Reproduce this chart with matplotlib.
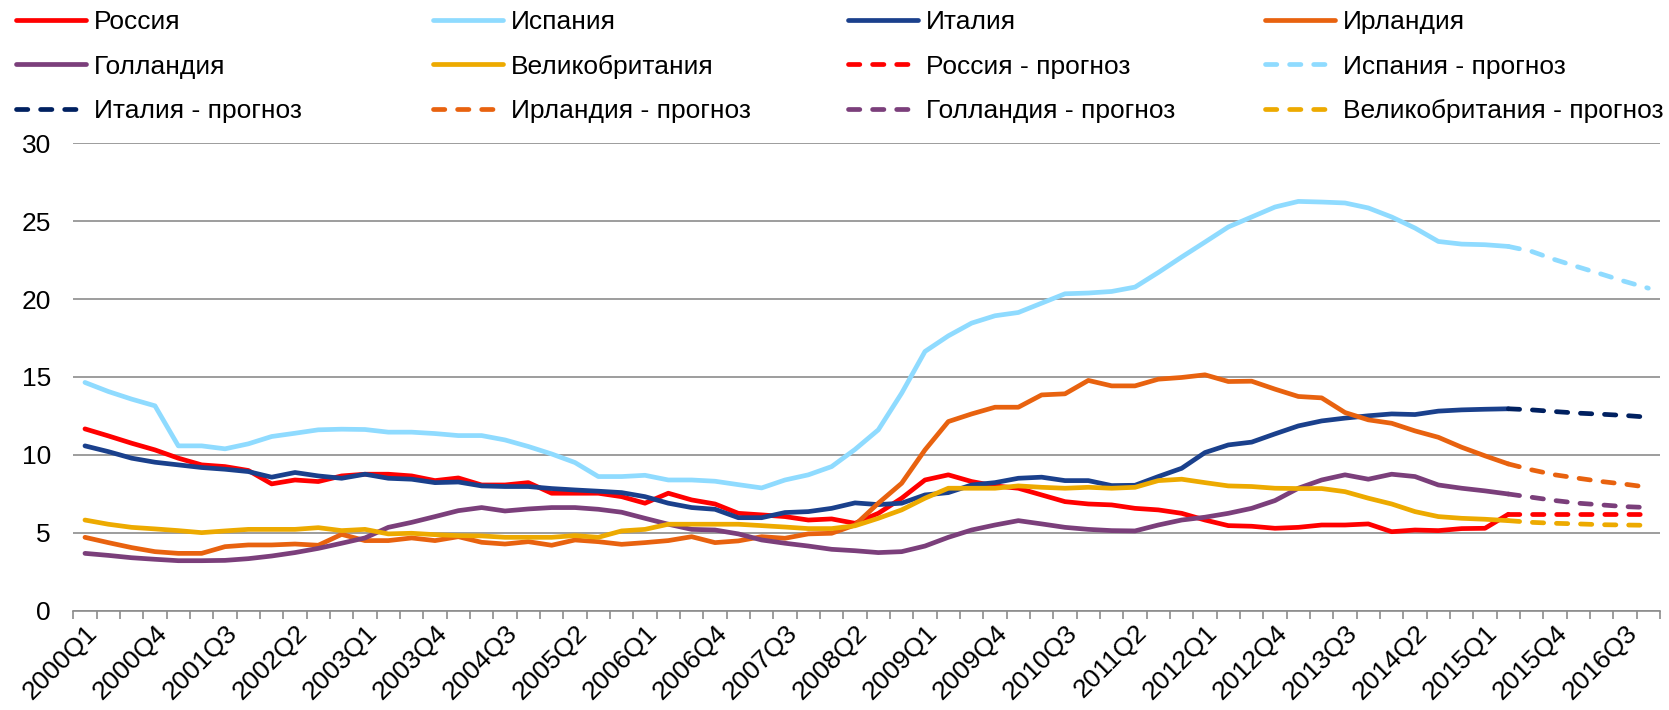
import numpy as np
import matplotlib
matplotlib.use("Agg")
import matplotlib.pyplot as plt

plt.rcParams['font.family'] = ['Liberation Sans', 'DejaVu Sans']

# кварталы 2000Q1 - 2016Q4
kvartaly = [f"{g}Q{q}" for g in range(2000, 2017) for q in range(1, 5)]

# факт: 2000Q1 - 2015Q2
rossiya = [11.67, 11.22, 10.75, 10.32, 9.79, 9.36, 9.25, 9.00, 8.14, 8.39,
           8.29, 8.65, 8.76, 8.76, 8.65, 8.35, 8.52, 8.07, 8.07, 8.22,
           7.54, 7.54, 7.54, 7.32, 6.90, 7.54, 7.11, 6.85, 6.25, 6.15,
           6.04, 5.82, 5.89, 5.61, 6.25, 7.22, 8.39, 8.72, 8.29, 8.01,
           7.86, 7.43, 7.00, 6.85, 6.79, 6.57, 6.47, 6.25, 5.82, 5.46,
           5.42, 5.29, 5.35, 5.50, 5.50, 5.57, 5.07, 5.18, 5.14, 5.27,
           5.29, 6.19]
ispaniya = [14.65, 14.07, 13.58, 13.15, 10.58, 10.58, 10.39, 10.71, 11.18, 11.39,
            11.61, 11.65, 11.63, 11.46, 11.46, 11.37, 11.24, 11.24, 10.96, 10.54,
            10.06, 9.51, 8.61, 8.61, 8.69, 8.39, 8.39, 8.31, 8.09, 7.88,
            8.39, 8.72, 9.25, 10.35, 11.61, 13.96, 16.64, 17.64, 18.46, 18.93,
            19.14, 19.74, 20.34, 20.39, 20.49, 20.77, 21.71, 22.70, 23.66, 24.63,
            25.27, 25.91, 26.27, 26.23, 26.17, 25.85, 25.27, 24.56, 23.70, 23.53,
            23.49, 23.38]
italiya = [10.58, 10.21, 9.79, 9.53, 9.36, 9.19, 9.08, 8.93, 8.57, 8.87,
           8.65, 8.50, 8.76, 8.50, 8.44, 8.22, 8.26, 8.01, 7.97, 7.97,
           7.84, 7.75, 7.67, 7.58, 7.32, 6.90, 6.62, 6.51, 5.97, 5.97,
           6.30, 6.36, 6.57, 6.92, 6.81, 6.90, 7.43, 7.58, 8.07, 8.22,
           8.50, 8.57, 8.35, 8.35, 8.03, 8.05, 8.61, 9.14, 10.15, 10.64,
           10.82, 11.35, 11.86, 12.18, 12.36, 12.51, 12.63, 12.59, 12.81, 12.89,
           12.93, 12.96]
irlandiya = [4.71, 4.37, 4.05, 3.79, 3.68, 3.68, 4.11, 4.22, 4.22, 4.28,
             4.20, 4.90, 4.50, 4.50, 4.67, 4.50, 4.75, 4.39, 4.28, 4.43,
             4.20, 4.54, 4.43, 4.26, 4.37, 4.50, 4.75, 4.37, 4.48, 4.75,
             4.65, 4.93, 4.97, 5.50, 6.90, 8.18, 10.32, 12.14, 12.63, 13.06,
             13.06, 13.85, 13.92, 14.78, 14.43, 14.43, 14.86, 14.97, 15.14, 14.71,
             14.73, 14.22, 13.75, 13.66, 12.72, 12.25, 12.03, 11.54, 11.13, 10.49,
             9.94, 9.42]
gollandiya = [3.68, 3.55, 3.40, 3.30, 3.21, 3.21, 3.23, 3.34, 3.51, 3.73,
              4.00, 4.33, 4.67, 5.35, 5.67, 6.04, 6.42, 6.62, 6.40, 6.53,
              6.62, 6.62, 6.51, 6.32, 5.93, 5.55, 5.22, 5.18, 4.93, 4.54,
              4.33, 4.15, 3.94, 3.85, 3.73, 3.79, 4.15, 4.71, 5.18, 5.50,
              5.78, 5.57, 5.35, 5.22, 5.14, 5.12, 5.50, 5.82, 6.00, 6.25,
              6.57, 7.07, 7.86, 8.39, 8.72, 8.44, 8.76, 8.61, 8.07, 7.86,
              7.69, 7.49]
velikobritaniya = [5.82, 5.55, 5.35, 5.25, 5.14, 5.01, 5.12, 5.22, 5.22, 5.22,
                   5.33, 5.14, 5.22, 4.93, 4.97, 4.88, 4.82, 4.80, 4.71, 4.71,
                   4.71, 4.82, 4.71, 5.12, 5.22, 5.55, 5.55, 5.55, 5.55, 5.46,
                   5.37, 5.27, 5.27, 5.45, 5.93, 6.47, 7.22, 7.86, 7.86, 7.86,
                   8.01, 7.92, 7.86, 7.92, 7.86, 7.92, 8.35, 8.44, 8.22, 8.01,
                   7.97, 7.86, 7.84, 7.84, 7.64, 7.22, 6.85, 6.36, 6.04, 5.93,
                   5.87, 5.78]

# прогноз: 2015Q2 - 2016Q4
rossiya_pr = [6.19, 6.19, 6.19, 6.19, 6.19, 6.19, 6.19]
ispaniya_pr = [23.38, 23.06, 22.53, 22.06, 21.60, 21.13, 20.70]
italiya_pr = [12.96, 12.89, 12.78, 12.68, 12.61, 12.53, 12.42]
irlandiya_pr = [9.42, 9.04, 8.72, 8.50, 8.29, 8.12, 7.92]
gollandiya_pr = [7.49, 7.28, 7.07, 6.90, 6.79, 6.68, 6.62]
velikobritaniya_pr = [5.78, 5.67, 5.61, 5.57, 5.52, 5.50, 5.48]

fakt = [("Россия", rossiya, "#FF0000"),
        ("Испания", ispaniya, "#8FDBFF"),
        ("Италия", italiya, "#1A408C"),
        ("Ирландия", irlandiya, "#E8620F"),
        ("Голландия", gollandiya, "#7B3F7B"),
        ("Великобритания", velikobritaniya, "#EDAA00")]
prognoz = [("Россия - прогноз", rossiya_pr, "#FF0000"),
           ("Испания - прогноз", ispaniya_pr, "#8FDBFF"),
           ("Италия - прогноз", italiya_pr, "#002060"),
           ("Ирландия - прогноз", irlandiya_pr, "#E8620F"),
           ("Голландия - прогноз", gollandiya_pr, "#7B3F7B"),
           ("Великобритания - прогноз", velikobritaniya_pr, "#EDAA00")]

W, H = 1669, 710
fig = plt.figure(figsize=(W / 100, H / 100), dpi=100)
ax = fig.add_axes([73.3 / W, 1 - 610.7 / H, (1660 - 73.3) / W, (610.7 - 143.3) / H])

x = np.arange(len(kvartaly))
lw = 3.4
linii = []
for nazv, vals, col in fakt:
    l, = ax.plot(x[:len(vals)], vals, color=col, lw=lw, label=nazv,
                 solid_joinstyle='round', solid_capstyle='round')
    linii.append(l)
start = len(rossiya) - 1
for nazv, vals, col in prognoz:
    l, = ax.plot(x[start:start + len(vals)], vals, color=col, lw=lw, label=nazv,
                 linestyle=(0, (2.4, 2.7)), dash_capstyle='round')
    linii.append(l)

ax.set_xlim(-0.5, len(kvartaly) - 0.5)
ax.set_ylim(0, 30)
ax.set_yticks(range(0, 31, 5))
ax.yaxis.grid(True, color='#8C8C8C', lw=1.2)
ax.set_axisbelow(True)
for s in ['left', 'right', 'top']:
    ax.spines[s].set_visible(False)
ax.spines['bottom'].set_color('#8C8C8C')
ax.spines['bottom'].set_linewidth(1.2)

ax.set_xticks(x[::3])
ax.set_xticklabels(kvartaly[::3], rotation=45, ha='right', va='top',
                   rotation_mode='anchor', fontsize=19)
ax.set_xticks(np.arange(-0.5, len(kvartaly)), minor=True)
ax.tick_params(axis='x', which='major', length=0, pad=7)
ax.tick_params(axis='x', which='minor', length=6, width=1.2, color='#8C8C8C')
ax.tick_params(axis='y', length=0, pad=16, labelsize=19)

# легенда: 4 колонки, заполнение по строкам
kolonki = [16, 433, 848, 1265]
for k, xk in enumerate(kolonki):
    h = [linii[k], linii[k + 4], linii[k + 8]]
    leg = fig.legend(handles=h, loc='upper left',
                     bbox_to_anchor=(xk / W, 1 - 10 / H), bbox_transform=fig.transFigure,
                     frameon=False, fontsize=19, borderpad=0, borderaxespad=0,
                     handlelength=2.65, handletextpad=0.3, labelspacing=0.78)

fig.savefig("out.png", dpi=100)
